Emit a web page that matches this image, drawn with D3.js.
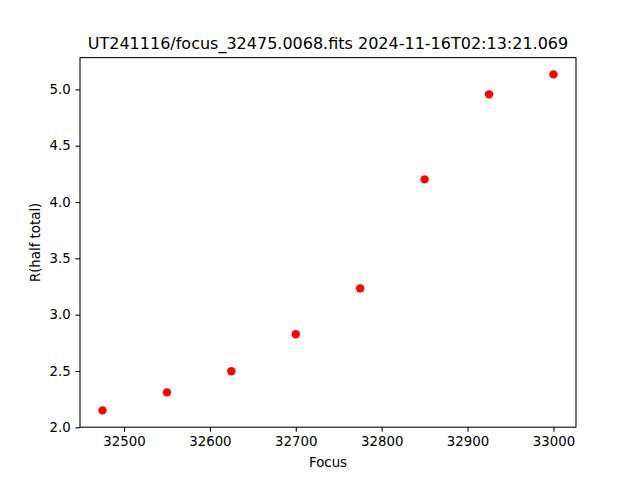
<!DOCTYPE html>
<html><head><meta charset="utf-8">
<script src="https://cdn.jsdelivr.net/npm/d3@7"></script>
<style>body{margin:0;background:#fff}svg{display:block}text{font-family:"DejaVu Sans",sans-serif;fill:#000}</style>
</head><body>
<script>
const focusValues = [32475, 32550, 32625, 32700, 32775, 32850, 32925, 33000];
const rHalfTotal = [2.150, 2.310, 2.497, 2.826, 3.233, 4.201, 4.956, 5.133];
const xTicks = [32500, 32600, 32700, 32800, 32900, 33000];
const yTicks = [2.0, 2.5, 3.0, 3.5, 4.0, 4.5, 5.0];
const titleText = "UT241116/focus_32475.0068.fits 2024-11-16T02:13:21.069";

const W = 640, H = 480;
const L = 80, R = 576, T = 57.6, B = 427.2;
const svg = d3.select("body").append("svg").attr("width", W).attr("height", H);

const xmin = d3.min(focusValues), xmax = d3.max(focusValues), xm = (xmax - xmin) * 0.05;
const ymin = d3.min(rHalfTotal), ymax = d3.max(rHalfTotal), ym = (ymax - ymin) * 0.05;
const x = d3.scaleLinear().domain([xmin - xm, xmax + xm]).range([L, R]);
const y = d3.scaleLinear().domain([ymin - ym, ymax + ym]).range([B, T]);

const xAxis = svg.append("g").attr("transform", `translate(0,${B})`)
  .call(d3.axisBottom(x).tickValues(xTicks).tickFormat(d3.format("d")).tickSize(4.67).tickPadding(4.67));
const yAxis = svg.append("g").attr("transform", `translate(${L},0)`)
  .call(d3.axisLeft(y).tickValues(yTicks).tickFormat(d3.format(".1f")).tickSize(4.67).tickPadding(4.67));
[xAxis, yAxis].forEach(g => {
  g.select(".domain").remove();
  g.selectAll("line").attr("stroke", "#000").attr("stroke-width", 1.07);
  g.selectAll("text").attr("font-size", "13.33px").attr("font-family", "DejaVu Sans").attr("fill", "#000");
});

svg.append("rect").attr("x", L).attr("y", T).attr("width", R - L).attr("height", B - T)
  .attr("fill", "none").attr("stroke", "#000").attr("stroke-width", 1.07);

svg.append("g").selectAll("circle").data(focusValues).join("circle")
  .attr("cx", d => x(d)).attr("cy", (d, i) => y(rHalfTotal[i])).attr("r", 4.2).attr("fill", "#ff0000");

svg.append("text").attr("x", (L + R) / 2).attr("y", T - 8.5).attr("text-anchor", "middle")
  .attr("font-size", "16px").text(titleText);
svg.append("text").attr("x", (L + R) / 2).attr("y", 467).attr("text-anchor", "middle")
  .attr("font-size", "13.33px").text("Focus");
svg.append("text").attr("transform", `translate(39.5,${(T + B) / 2}) rotate(-90)`).attr("text-anchor", "middle")
  .attr("font-size", "13.33px").text("R(half total)");
</script>
</body></html>
